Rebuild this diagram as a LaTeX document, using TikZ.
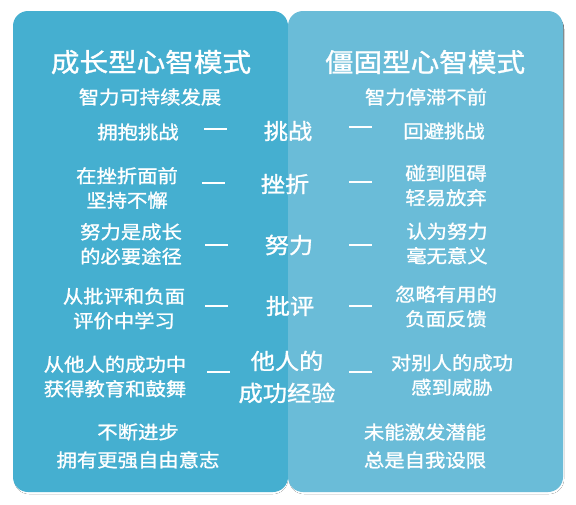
\documentclass[tikz,border=0pt]{standalone}
\usepackage{fontspec}
\newfontfamily\cjk[FakeStretch=1.1,FakeBold=1.2]{Noto Sans CJK SC}
\definecolor{leftbox}{HTML}{45AFD0}
\definecolor{rightbox}{HTML}{6ABCD8}
\definecolor{shade}{HTML}{DCEFF5}
\begin{document}
\begin{tikzpicture}[x=1pt,y=-1pt,
  txt/.style={text=white,font=\cjk\fontsize{18.5}{24.5}\selectfont,align=center,inner sep=0pt},
  txtb/.style={text=white,font=\cjk\fontsize{18.5}{28}\selectfont,align=center,inner sep=0pt},
  mid/.style={text=white,font=\cjk\fontsize{22}{32}\selectfont,align=center,inner sep=0pt},
  ttl/.style={text=white,font=\cjk\fontsize{26}{30}\selectfont,inner sep=0pt},
  sub/.style={text=white,font=\cjk\fontsize{18.5}{24}\selectfont,inner sep=0pt},
  dashbar/.style={fill=white,draw=none,minimum width=23pt,minimum height=2.4pt,inner sep=0pt,rectangle}]
\useasboundingbox (0,0) rectangle (576,504);
% boxes
\fill[shade, rounded corners=15pt] (14,14) rectangle (288,494);
\fill[shade, rounded corners=15pt] (289,14) rectangle (564,494);
\fill[leftbox, rounded corners=15pt] (13,11) rectangle (288,492);
\fill[rightbox, rounded corners=15pt] (288,11) rectangle (563,492);
% titles
\node[ttl] (t1) at (151,62) {成长型心智模式};
\node[ttl] (t2) at (425,62) {僵固型心智模式};
\node[sub] (s1) at (150,97) {智力可持续发展};
\node[sub] (s2) at (426,97) {智力停滞不前};
% left column
\node[txt] (l1) at (138,132) {拥抱挑战};
\node[txt] (l2) at (127,188) {在挫折面前\\坚持不懈};
\node[txt] (l3) at (131,244) {努力是成长\\的必要途径};
\node[txt] (l4) at (124,308.5) {从批评和负面\\评价中学习};
\node[txt] (l5) at (115,376.5) {从他人的成功中\\获得教育和鼓舞};
\node[txtb] (l6) at (138,446) {不断进步\\拥有更强自由意志};
% right column
\node[txt] (r1) at (444,131) {回避挑战};
\node[txt] (r2) at (446,185.5) {碰到阻碍\\轻易放弃};
\node[txt] (r3) at (447,243.5) {认为努力\\毫无意义};
\node[txt] (r4) at (446,306.5) {忽略有用的\\负面反馈};
\node[txt] (r5) at (452,375) {对别人的成功\\感到威胁};
\node[txtb] (r6) at (425,446) {未能激发潜能\\总是自我设限};
% middle
\node[mid] (m1) at (288,131) {挑战};
\node[mid] (m2) at (285,184) {挫折};
\node[mid] (m3) at (289,245) {努力};
\node[mid] (m4) at (290,306) {批评};
\node[mid] (m5) at (287,377) {他人的\\成功经验};
% dashes
\node[dashbar] (dl1) at (215,129) {};
\node[dashbar] (dl2) at (213,183) {};
\node[dashbar] (dl3) at (216,245) {};
\node[dashbar] (dl4) at (216,306) {};
\node[dashbar] (dl5) at (218,372) {};
\node[dashbar] (dr1) at (360,127) {};
\node[dashbar] (dr2) at (360,182) {};
\node[dashbar] (dr3) at (360,245) {};
\node[dashbar] (dr4) at (360,306) {};
\node[dashbar] (dr5) at (360,372) {};
\end{tikzpicture}
\end{document}
